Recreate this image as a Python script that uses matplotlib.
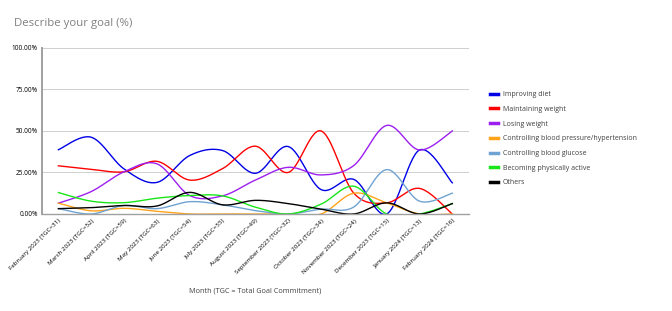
import numpy as np
import matplotlib
matplotlib.use("Agg")
import matplotlib.pyplot as plt

plt.rcParams['font.family'] = ['Open Sans', 'DejaVu Sans']

months = ["February 2023 (TGC=31)", "March 2023 (TGC=52)", "April 2023 (TGC=59)",
          "May 2023 (TGC=63)", "June 2023 (TGC=54)", "July 2023 (TGC=55)",
          "August 2023 (TGC=49)", "September 2023 (TGC=32)", "October 2023 (TGC=34)",
          "November 2023 (TGC=24)", "December 2023 (TGC=15)", "January 2024 (TGC=13)",
          "February 2024 (TGC=16)"]

improving_diet = [38.7, 46.2, 27.1, 19.0, 35.2, 38.2, 24.5, 40.6, 14.7, 20.8, 0.0, 38.5, 18.75]
maintaining_weight = [29.0, 26.9, 25.4, 31.7, 20.4, 27.3, 40.8, 25.0, 50.0, 12.5, 6.7, 15.4, 0.0]
losing_weight = [6.5, 13.5, 25.4, 30.2, 11.1, 10.9, 20.4, 28.1, 23.5, 29.2, 53.3, 38.5, 50.0]
blood_pressure = [6.5, 1.9, 3.4, 1.6, 0.0, 0.0, 0.0, 0.0, 0.0, 12.5, 6.7, 0.0, 0.0]
blood_glucose = [3.2, 0.0, 5.1, 3.2, 7.4, 5.5, 2.0, 0.0, 2.9, 4.2, 26.7, 7.7, 12.5]
physically_active = [12.9, 7.7, 6.8, 9.5, 11.1, 10.9, 4.1, 0.0, 5.9, 16.7, 0.0, 0.0, 6.25]
others = [3.2, 3.8, 5.1, 4.8, 13.0, 5.5, 8.2, 6.25, 2.9, 0.0, 6.7, 0.0, 6.25]

series = [
    ("Improving diet", improving_diet, "#0000e6"),
    ("Maintaining weight", maintaining_weight, "#ff0000"),
    ("Losing weight", losing_weight, "#9d1ff0"),
    ("Controlling blood pressure/hypertension", blood_pressure, "#ffa31a"),
    ("Controlling blood glucose", blood_glucose, "#6fa3d2"),
    ("Becoming physically active", physically_active, "#19e619"),
    ("Others", others, "#000000"),
]


def smooth(x, y, n=30):
    # catmull-rom style smoothing like the spreadsheet "smoothed line"
    x = np.asarray(x, float)
    y = np.asarray(y, float)
    px = np.concatenate([[x[0]], x, [x[-1]]])
    py = np.concatenate([[y[0]], y, [y[-1]]])
    xs, ys = [], []
    t = np.linspace(0, 1, n)
    for i in range(1, len(px) - 2):
        p0, p1, p2, p3 = py[i - 1], py[i], py[i + 1], py[i + 2]
        q0, q1, q2, q3 = px[i - 1], px[i], px[i + 1], px[i + 2]
        c1y = p1 + (p2 - p0) / 6
        c2y = p2 - (p3 - p1) / 6
        c1x = q1 + (q2 - q0) / 6
        c2x = q2 - (q3 - q1) / 6
        bx = (1 - t) ** 3 * q1 + 3 * (1 - t) ** 2 * t * c1x + 3 * (1 - t) * t ** 2 * c2x + t ** 3 * q2
        by = (1 - t) ** 3 * p1 + 3 * (1 - t) ** 2 * t * c1y + 3 * (1 - t) * t ** 2 * c2y + t ** 3 * p2
        xs.append(bx)
        ys.append(by)
    return np.concatenate(xs), np.concatenate(ys)


fig = plt.figure(figsize=(6.72, 3.11), dpi=100)
ax = fig.add_axes([0.0625, 0.312, 0.635, 0.534])

x = np.arange(len(months))
for name, vals, col in series:
    sx, sy = smooth(x, vals)
    ax.plot(sx, sy, color=col, lw=1.0, label=name)

ax.set_xlim(-0.5, len(months) - 0.5)
ax.set_ylim(0, 100)
ax.set_yticks([0, 25, 50, 75, 100])
ax.set_yticklabels(["0.00%", "25.00%", "50.00%", "75.00%", "100.00%"], fontsize=4.7)
ax.set_xticks(x)
ax.set_xticklabels(months, rotation=45, ha='right', rotation_mode='anchor', fontsize=4.5)
ax.tick_params(axis='both', length=0, pad=3)
ax.grid(axis='y', color='#d0d0d0', lw=0.7)
ax.set_axisbelow(True)
for s in ['top', 'right']:
    ax.spines[s].set_visible(False)
ax.spines['left'].set_color('#a0a0a0')
ax.spines['left'].set_linewidth(1.4)
ax.spines['bottom'].set_color('#a0a0a0')
ax.spines['bottom'].set_linewidth(1.0)

ax.set_xlabel("Month (TGC = Total Goal Commitment)", fontsize=5.2, color='#404040', labelpad=9)

fig.text(0.021, 0.925, "Describe your goal (%)", fontsize=8.2, color='#808080', va='center')

leg = ax.legend(loc='upper left', bbox_to_anchor=(0.729, 0.707), bbox_transform=fig.transFigure,
                frameon=False, fontsize=5.0, handlelength=1.1, handletextpad=0.75,
                labelspacing=1.11, borderaxespad=0, borderpad=0)
for line in leg.get_lines():
    line.set_linewidth(2.5)
for t in leg.get_texts():
    t.set_color('#404040')

fig.savefig("out.png", dpi=100)
